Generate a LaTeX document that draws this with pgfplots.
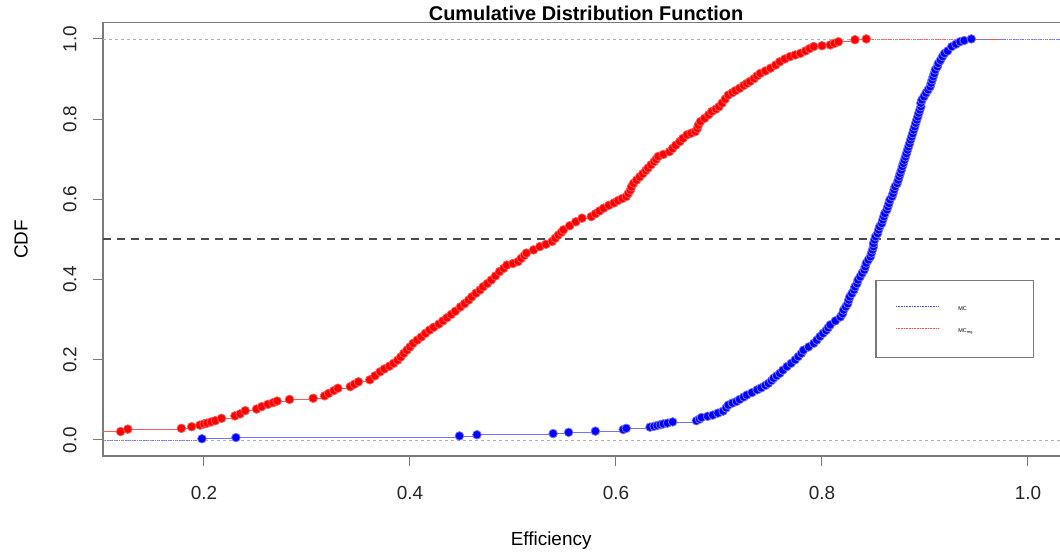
\documentclass[border=0pt]{standalone}
\usepackage{pgfplots}
\pgfplotsset{compat=1.18}
\usepackage{fontspec}
\setmainfont{Liberation Sans}

\definecolor{rblue}{HTML}{0000FF}
\definecolor{rred}{HTML}{FF0000}
\definecolor{gray70}{HTML}{B3B3B3}
\definecolor{boxgray}{HTML}{7A7A7A}

\pgfplotsset{
  ecdfblue/.style={const plot mark left, color=rblue!55, line width=0.8bp,
    mark=*, mark size=4.3bp, mark options={draw=none, fill=rblue}},
  ecdfred/.style={const plot mark left, color=rred!65, line width=0.8bp,
    mark=*, mark size=4.3bp, mark options={draw=none, fill=rred}},
}

\begin{document}
\begin{tikzpicture}
\useasboundingbox (-103.06bp,-98bp) rectangle (956.94bp,456bp);
\begin{axis}[
  scale only axis, width=966.1bp, height=433.1bp,
  xmin=0.102, xmax=1.04, ymin=-0.04, ymax=1.04,
  axis line style={boxgray, line width=1.2bp},
  tick pos=left, tick align=outside, major tick length=10bp,
  tick style={boxgray, line width=1bp},
  xtick={0.2,0.4,0.6,0.8,1.0},
  xticklabels={0.2,0.4,0.6,0.8,1.0},
  ytick={0,0.2,0.4,0.6,0.8,1.0},
  yticklabels={0.0,0.2,0.4,0.6,0.8,1.0},
  ticklabel style={font=\fontsize{19}{22}\selectfont, text=black!85},
  xticklabel style={yshift=-17bp},
  yticklabel style={xshift=-13bp, rotate=90, anchor=south},
  title={Cumulative Distribution Function},
  every axis title/.style={at={(axis description cs:0.5,1)}, anchor=base,
    yshift=2bp, font=\bfseries\fontsize{20}{24}\selectfont},
  xlabel={Efficiency},
  every axis x label/.style={at={(axis description cs:0.4638,0)},
    anchor=center, yshift=-85bp, font=\fontsize{19}{22}\selectfont},
  ylabel={CDF},
  every axis y label/.style={at={(axis description cs:0,0.5)},
    xshift=-82bp, rotate=90, anchor=center, font=\fontsize{19}{22}\selectfont},
  legend image code/.code={\draw[#1, line width=0.6bp, densely dotted] (0bp,1.3bp) -- (42bp,1.3bp);},
  legend style={at={(axis cs:0.8515,0.399)}, anchor=north west,
    draw=boxgray, line width=1.5bp, fill=white,
    inner xsep=20bp, inner ysep=21bp, row sep=9.6bp, column sep=18bp,
    font=\fontsize{5.5}{6}\selectfont},
  legend cell align=left,
]
% reference lines at 0 and 1
\addplot[forget plot, gray70, line width=0.7bp, dash pattern=on 3bp off 3bp]
  coordinates {(0.102,0) (1.04,0)};
\addplot[forget plot, gray70, line width=0.7bp, dash pattern=on 3bp off 3bp]
  coordinates {(0.102,1) (1.04,1)};

% MC (blue)
\addplot[forget plot, rblue!55, line width=0.8bp, densely dotted]
  coordinates {(0.102,0) (0.198,0)};
\addplot[forget plot, rblue!55, line width=0.8bp, densely dotted]
  coordinates {(0.945,1) (1.04,1)};
\addplot[forget plot, ecdfblue] coordinates {
(0.198,0.003) (0.231,0.006) (0.448,0.010) (0.465,0.013) (0.539,0.016)
(0.554,0.019) (0.580,0.022) (0.607,0.026) (0.610,0.029) (0.633,0.032)
(0.637,0.034) (0.640,0.036) (0.643,0.038) (0.646,0.040) (0.650,0.042)
(0.655,0.045) (0.678,0.048) (0.681,0.052) (0.683,0.056) (0.689,0.059)
(0.694,0.062) (0.699,0.067) (0.704,0.072) (0.707,0.080) (0.709,0.087)
(0.713,0.092) (0.717,0.096) (0.720,0.101) (0.724,0.107) (0.727,0.112)
(0.732,0.118) (0.737,0.125) (0.741,0.130) (0.745,0.136) (0.748,0.141)
(0.751,0.148) (0.753,0.154) (0.756,0.160) (0.759,0.166) (0.762,0.174)
(0.766,0.183) (0.770,0.191) (0.774,0.200) (0.777,0.208) (0.780,0.216)
(0.782,0.224) (0.787,0.232) (0.792,0.241) (0.795,0.249) (0.798,0.258)
(0.801,0.266) (0.804,0.273) (0.806,0.280) (0.808,0.287) (0.813,0.297)
(0.818,0.307) (0.820,0.315) (0.821,0.324) (0.823,0.332) (0.825,0.340)
(0.826,0.349) (0.827,0.357) (0.829,0.365) (0.831,0.374) (0.832,0.382)
(0.834,0.390) (0.835,0.399) (0.837,0.407) (0.839,0.416) (0.841,0.424)
(0.842,0.432) (0.843,0.441) (0.845,0.449) (0.847,0.457) (0.848,0.466)
(0.849,0.474) (0.850,0.482) (0.850,0.490) (0.851,0.499) (0.852,0.507)
(0.854,0.515) (0.855,0.524) (0.856,0.532) (0.858,0.540) (0.859,0.549)
(0.860,0.557) (0.861,0.565) (0.863,0.574) (0.864,0.582) (0.865,0.590)
(0.866,0.599) (0.868,0.607) (0.869,0.615) (0.870,0.624) (0.871,0.632)
(0.873,0.640) (0.874,0.648) (0.875,0.657) (0.876,0.665) (0.877,0.673)
(0.878,0.682) (0.879,0.690) (0.880,0.698) (0.881,0.706) (0.882,0.714)
(0.883,0.723) (0.884,0.731) (0.885,0.739) (0.886,0.748) (0.887,0.756)
(0.888,0.764) (0.889,0.773) (0.890,0.781) (0.891,0.790) (0.892,0.798)
(0.893,0.806) (0.894,0.815) (0.895,0.823) (0.896,0.831) (0.896,0.840)
(0.897,0.848) (0.899,0.856) (0.901,0.865) (0.903,0.873) (0.905,0.881)
(0.906,0.890) (0.907,0.898) (0.908,0.906) (0.909,0.914) (0.910,0.923)
(0.912,0.931) (0.913,0.939) (0.915,0.947) (0.917,0.956) (0.919,0.964)
(0.922,0.970) (0.926,0.981) (0.930,0.987) (0.934,0.993) (0.938,0.996)
(0.945,1.000)
};

% MCreg (red)
\addplot[forget plot, rred!65, line width=0.8bp]
  coordinates {(0.102,0.021) (0.119,0.021)};
\addplot[forget plot, rred!65, line width=0.8bp, densely dotted]
  coordinates {(0.843,1) (0.976,1)};
\addplot[forget plot, ecdfred] coordinates {
(0.119,0.021) (0.126,0.027) (0.178,0.029) (0.188,0.033) (0.196,0.037)
(0.200,0.040) (0.203,0.042) (0.207,0.045) (0.211,0.048) (0.217,0.054)
(0.230,0.060) (0.235,0.065) (0.240,0.073) (0.251,0.077) (0.256,0.083)
(0.262,0.089) (0.267,0.093) (0.271,0.097) (0.283,0.101) (0.306,0.104)
(0.317,0.110) (0.321,0.116) (0.326,0.123) (0.330,0.129) (0.342,0.133)
(0.346,0.139) (0.350,0.145) (0.361,0.150) (0.366,0.160) (0.371,0.170)
(0.375,0.177) (0.380,0.184) (0.384,0.191) (0.388,0.199) (0.391,0.207)
(0.394,0.216) (0.397,0.224) (0.400,0.232) (0.403,0.241) (0.407,0.249)
(0.411,0.257) (0.415,0.266) (0.419,0.274) (0.423,0.281) (0.428,0.289)
(0.432,0.297) (0.436,0.305) (0.440,0.313) (0.444,0.321) (0.449,0.332)
(0.453,0.340) (0.457,0.349) (0.460,0.357) (0.464,0.366) (0.468,0.374)
(0.471,0.382) (0.475,0.390) (0.479,0.399) (0.483,0.409) (0.487,0.420)
(0.491,0.428) (0.494,0.436) (0.500,0.440) (0.505,0.445) (0.508,0.453)
(0.511,0.460) (0.513,0.466) (0.520,0.474) (0.526,0.482) (0.532,0.488)
(0.538,0.495) (0.541,0.503) (0.544,0.511) (0.547,0.518) (0.549,0.524)
(0.555,0.534) (0.561,0.544) (0.567,0.553) (0.576,0.557) (0.580,0.564)
(0.584,0.571) (0.588,0.578) (0.593,0.585) (0.598,0.591) (0.602,0.597)
(0.606,0.602) (0.610,0.607) (0.612,0.615) (0.614,0.623) (0.615,0.631)
(0.617,0.640) (0.620,0.648) (0.623,0.656) (0.626,0.664) (0.629,0.672)
(0.631,0.678) (0.634,0.686) (0.637,0.694) (0.639,0.700) (0.641,0.707)
(0.646,0.712) (0.652,0.719) (0.655,0.727) (0.658,0.735) (0.662,0.744)
(0.665,0.752) (0.669,0.761) (0.673,0.765) (0.677,0.769) (0.679,0.777)
(0.680,0.785) (0.682,0.794) (0.686,0.802) (0.690,0.811) (0.693,0.819)
(0.697,0.825) (0.700,0.831) (0.703,0.840) (0.706,0.850) (0.709,0.860)
(0.713,0.866) (0.716,0.871) (0.720,0.877) (0.724,0.884) (0.727,0.889)
(0.730,0.894) (0.734,0.901) (0.737,0.908) (0.740,0.914) (0.745,0.920)
(0.750,0.927) (0.755,0.935) (0.759,0.943) (0.764,0.950) (0.769,0.956)
(0.774,0.960) (0.779,0.964) (0.784,0.970) (0.788,0.976) (0.792,0.981)
(0.800,0.983) (0.808,0.985) (0.812,0.989) (0.816,0.993) (0.832,0.998)
(0.843,1.000)
};

% median line
\addplot[forget plot, black!70, line width=2bp, dash pattern=on 8bp off 6bp]
  coordinates {(0.102,0.5) (1.04,0.5)};

\addlegendimage{rblue!70}
\addlegendentry{\makebox[53bp][l]{\rule[-5bp]{0pt}{12bp}MC}}
\addlegendimage{rred!70}
\addlegendentry{\makebox[53bp][l]{\rule[-5bp]{0pt}{12bp}MC\textsubscript{reg}}}
\end{axis}
\end{tikzpicture}
\end{document}
